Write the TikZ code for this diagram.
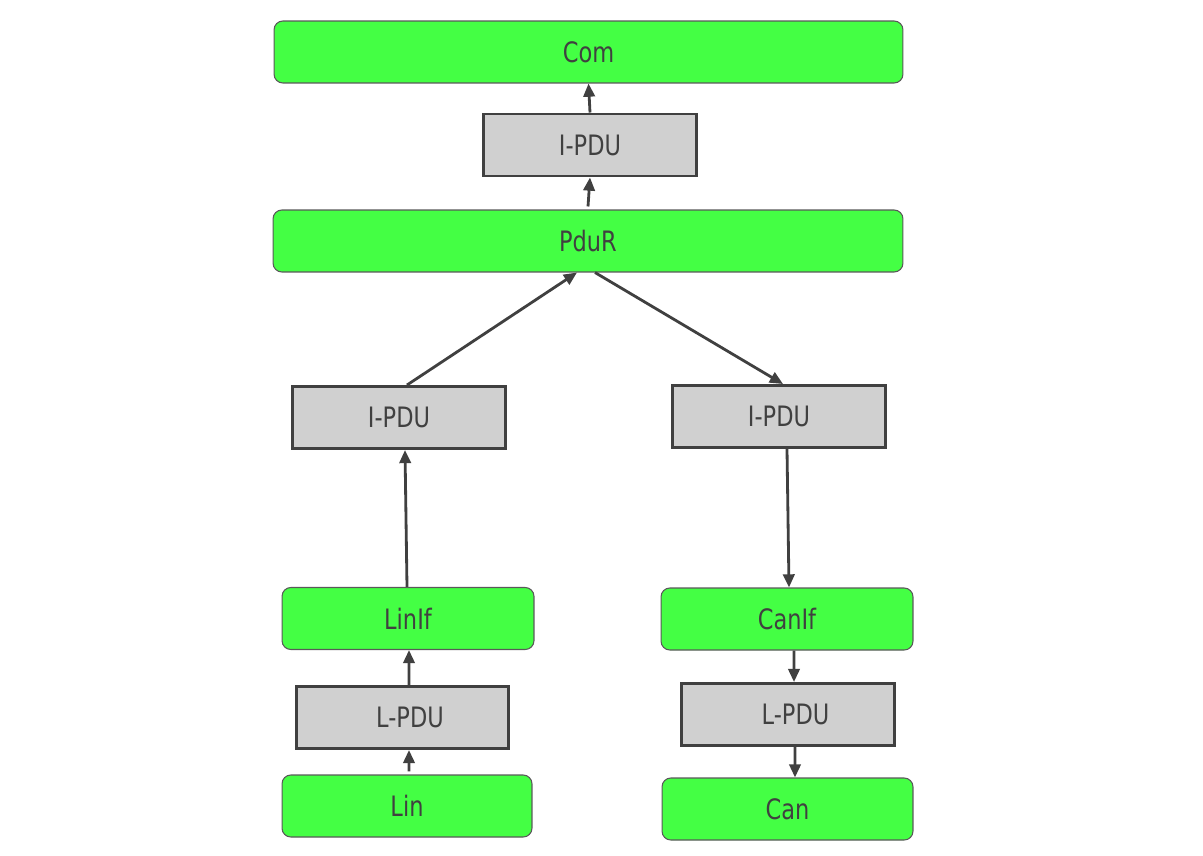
\documentclass[tikz,border=0pt]{standalone}
\usepackage{fontspec}
\usepackage{tikz}
\usetikzlibrary{arrows.meta,positioning}
\newfontfamily\boxfont[FakeStretch=0.8]{DejaVu Sans}
\definecolor{layergreen}{RGB}{68,255,68}
\definecolor{pdugray}{RGB}{208,208,208}
\definecolor{darkline}{RGB}{64,64,64}

\begin{document}
\begin{tikzpicture}[x=0.02cm,y=-0.02cm,
    layer/.style={draw=gray!70!black, line width=0.6pt, fill=layergreen, rounded corners=5pt,
        minimum height=1.24cm, inner sep=0pt, text=darkline, font=\boxfont\fontsize{16}{18}\selectfont},
    pdu/.style={draw=darkline, line width=1.7pt, fill=pdugray, minimum width=4.26cm,
        minimum height=1.24cm, inner sep=0pt, text=darkline, font=\boxfont\fontsize{16}{18}\selectfont},
    flow/.style={draw=darkline, line width=1.6pt, -{Triangle[length=7.5pt,width=6.5pt]}}]
            \useasboundingbox (0,0) rectangle (1203,855);
            % upper part
            \node[layer, minimum width=12.58cm] (com) at (588.5,52) {Com};
            \node[pdu] (ipduT) at (590,145) {I-PDU};
            \node[layer, minimum width=12.6cm] (pduR) at (588,241) {PduR};
            % lin side
            \node[pdu] (ipduL) at (399,417.5) {I-PDU};
            \node[layer, minimum width=5.04cm] (linIf) at (408,618.5) {LinIf};
            \node[pdu] (lpduL) at (402.5,717.5) {\hspace{0.3cm}L-PDU};
            \node[layer, minimum width=5cm] (lin) at (407,806) {Lin};
            % can side
            \node[pdu] (ipduR) at (779,416.5) {I-PDU};
            \node[layer, minimum width=5.04cm] (canIf) at (787,619) {CanIf};
            \node[pdu] (lpduR) at (788,714.5) {\hspace{0.3cm}L-PDU};
            \node[layer, minimum width=5.02cm] (can) at (787.5,809) {Can};

            \draw[flow] (ipduT.north) -- (com.south);
            \draw[flow] ([yshift=0.06cm]pduR.north) -- (ipduT.south);
            \draw[flow] ([xshift=0.16cm]ipduL.north) -- ([xshift=-0.22cm]pduR.south);
            \draw[flow] ([xshift=0.14cm]pduR.south) -- ([xshift=0.08cm]ipduR.north);
            \draw[flow] ([xshift=-0.02cm]linIf.north) -- ([xshift=0.12cm]ipduL.south);
            \draw[flow] ([xshift=0.13cm]lpduL.north) -- ([xshift=0.02cm]linIf.south);
            \draw[flow] ([xshift=0.04cm,yshift=0.06cm]lin.north) -- ([xshift=0.13cm]lpduL.south);
            \draw[flow] ([xshift=0.16cm]ipduR.south) -- ([xshift=0.04cm]canIf.north);
            \draw[flow] ([xshift=0.14cm]canIf.south) -- ([xshift=0.12cm]lpduR.north);
            \draw[flow] ([xshift=0.14cm]lpduR.south) -- ([xshift=0.15cm]can.north);
\end{tikzpicture}
\end{document}
